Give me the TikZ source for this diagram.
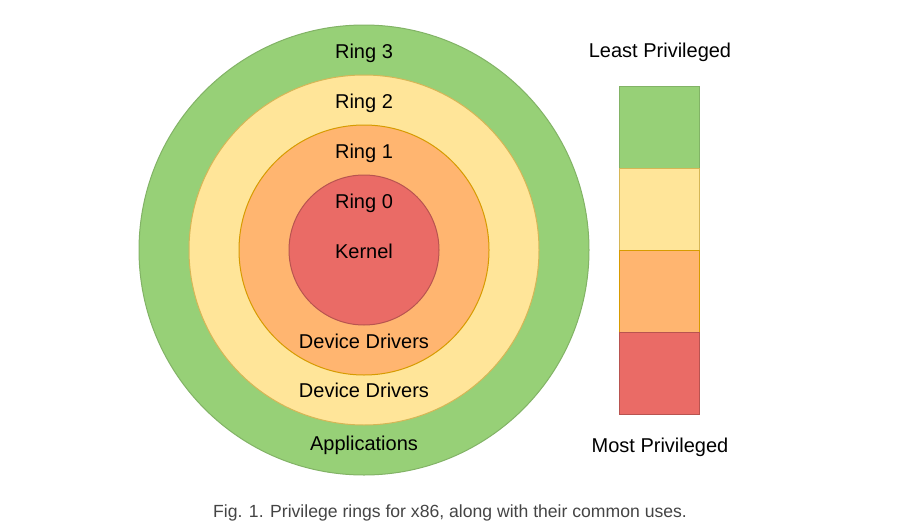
\documentclass[tikz,border=0pt]{standalone}
\usepackage{fontspec}
\setmainfont{Liberation Sans}
\definecolor{gfill}{HTML}{97D077}\definecolor{gdraw}{HTML}{82B366}
\definecolor{yfill}{HTML}{FFE599}\definecolor{ydraw}{HTML}{D6B656}
\definecolor{ofill}{HTML}{FFB570}\definecolor{odraw}{HTML}{D79B00}
\definecolor{rfill}{HTML}{EA6B66}\definecolor{rdraw}{HTML}{B85450}
\definecolor{capgray}{HTML}{444444}
\begin{document}
\begin{tikzpicture}[x=1pt,y=-1pt,
  ring/.style={circle,inner sep=0pt,line width=1pt,minimum size=#1},
  seg/.style={rectangle,inner sep=0pt,line width=1pt,minimum width=80pt,minimum height=82pt},
  lbl/.style={font=\fontsize{20}{24}\selectfont,text=black,inner sep=0pt,anchor=base},
  captext/.style={font=\fontsize{17.6}{21}\selectfont,text=capgray,inner sep=0pt,anchor=base}]
\useasboundingbox (0,0) rectangle (907,530);
\node[ring=450pt,fill=gfill,draw=gdraw] (r3) at (364,250) {};
\node[ring=350pt,fill=yfill,draw=ydraw] (r2) at (364,250) {};
\node[ring=250pt,fill=ofill,draw=odraw] (r1) at (364,250) {};
\node[ring=150pt,fill=rfill,draw=rdraw] (r0) at (364,250) {};
\node[lbl] (t3) at (364,58) {Ring 3};
\node[lbl] (t2) at (364,108) {Ring 2};
\node[lbl] (t1) at (364,158) {Ring 1};
\node[lbl] (t0) at (364,208) {Ring 0};
\node[lbl] (tk) at (364,258) {Kernel};
\node[lbl] (td1) at (364,348) {Device Drivers};
\node[lbl] (td2) at (364,397) {Device Drivers};
\node[lbl] (ta) at (364,450) {Applications};
\node[seg,fill=gfill,draw=gdraw] (b3) at (659,127) {};
\node[seg,fill=yfill,draw=ydraw] (b2) at (659,209) {};
\node[seg,fill=ofill,draw=odraw] (b1) at (659,291) {};
\node[seg,fill=rfill,draw=rdraw] (b0) at (659,373) {};
\node[lbl] (least) at (660,57) {Least Privileged};
\node[lbl] (most) at (660,452) {Most Privileged};
\node[captext] (caption) at (450,517) {Fig. 1. Privilege rings for x86, along with their common uses.};
\end{tikzpicture}
\end{document}
